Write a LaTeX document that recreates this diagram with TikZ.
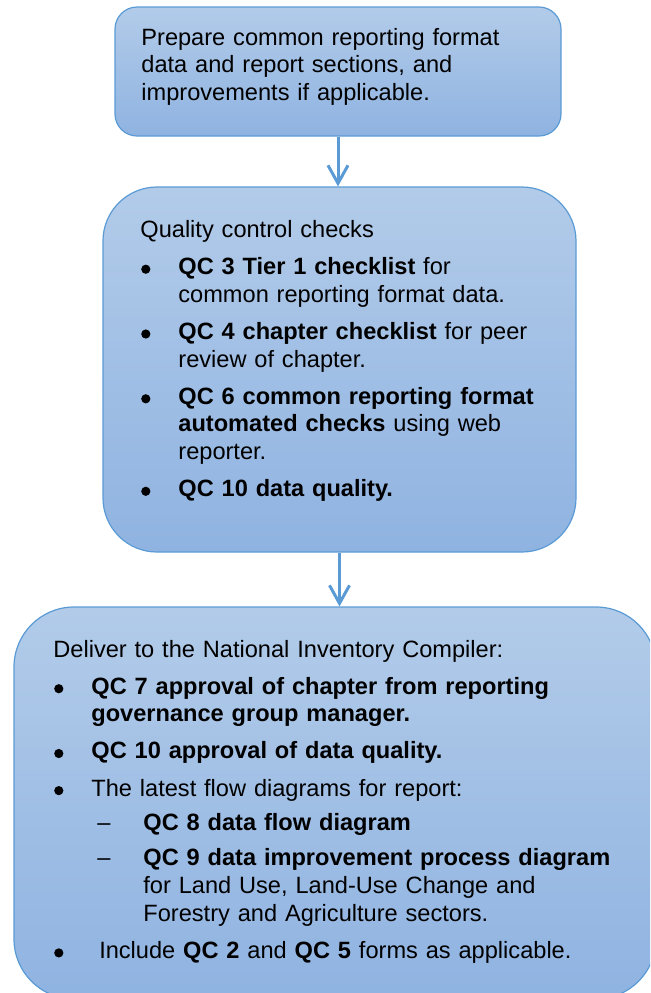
\documentclass[tikz,border=0pt]{standalone}
\usepackage{fontspec}
\setmainfont{Liberation Sans}
\usetikzlibrary{arrows.meta, positioning, calc}
\definecolor{boxtop}{RGB}{178,203,233}
\definecolor{boxbottom}{RGB}{143,179,225}
\definecolor{boxline}{RGB}{91,155,213}
\newcommand{\qcdot}{\tikz[baseline=0pt]\fill (0pt,2.7pt) circle (2.3pt);}
\newcommand{\qcbullet}[1]{\par\vspace{4.7pt}\noindent\hangindent=19pt\hangafter=1\makebox[19pt][l]{\hspace{0.4pt}\qcdot}#1}
\newcommand{\qcdash}[1]{\par\vspace{3.6pt}\noindent\hangindent=45pt\hangafter=1\hspace*{22pt}\makebox[23pt][l]{\textendash}#1}

\begin{document}
\begin{tikzpicture}[
    x=0.5pt, y=-0.5pt,
    block/.style={rectangle, draw=boxline, line width=0.6pt, top color=boxtop, bottom color=boxbottom, inner sep=0pt},
    txt/.style={anchor=base west, inner sep=0pt, text width=#1, align=left, font=\fontsize{11.8pt}{13.85pt}\selectfont},
    arrow/.style={-{Straight Barb[length=9pt, width=10pt]}, line width=1.5pt, draw=boxline}
]
\useasboundingbox (0,0) rectangle (650,993);
\clip (0,0) rectangle (650,993);

\node[block, minimum width=223pt, minimum height=64.5pt, rounded corners=11pt] (prep) at (338,71.5) {};
\node[block, minimum width=236.5pt, minimum height=182.5pt, rounded corners=27pt] (qc) at (339.5,369.5) {};
\node[block, minimum width=321pt, minimum height=196pt, rounded corners=30pt] (deliver) at (335,803) {};

\node[txt=210pt] (preptext) at (141,45) {Prepare common reporting format\newline data and report sections, and\newline improvements if applicable.};

\node[txt=215pt] (qctext) at (140,237.5) {Quality control checks
\qcbullet{\textbf{QC 3 Tier 1 checklist} for\newline common reporting format data.}
\qcbullet{\textbf{QC 4 chapter checklist} for peer\newline review of chapter.}
\qcbullet{\textbf{QC 6 common reporting format\newline automated checks} using web\newline reporter.}
\qcbullet{\textbf{QC 10 data quality.}}};

\node[txt=290pt] (delivertext) at (53,657) {Deliver to the National Inventory Compiler:
\qcbullet{\textbf{QC 7 approval of chapter from reporting\newline governance group manager.}}
\qcbullet{\textbf{QC 10 approval of data quality.}}
\qcbullet{The latest flow diagrams for report:}
\qcdash{\textbf{QC 8 data flow diagram}}
\qcdash{\textbf{QC 9 data improvement process diagram}\newline for Land Use, Land-Use Change and\newline Forestry and Agriculture sectors.}
\qcbullet{\ Include \textbf{QC 2} and \textbf{QC 5} forms as applicable.}};

\draw[arrow] (prep.south) -- (prep.south |- qc.north);
\draw[arrow] (qc.south) -- (qc.south |- deliver.north);
\end{tikzpicture}
\end{document}
